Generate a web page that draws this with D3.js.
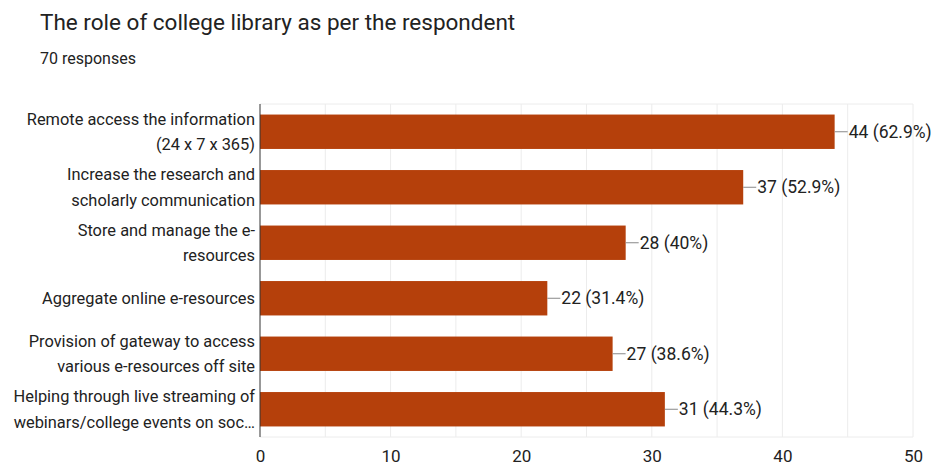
<!DOCTYPE html>
<html>
<head>
<script src="https://d3js.org/d3.v7.min.js"></script>
<style>
  body { margin: 0; background: #fff; }
  text { font-family: Roboto, "Noto Sans", sans-serif; }
</style>
</head>
<body>
<script>
var categories = [
  ["Remote access the information", "(24 x 7 x 365)"],
  ["Increase the research and", "scholarly communication"],
  ["Store and manage the e-", "resources"],
  ["Aggregate online e-resources"],
  ["Provision of gateway to access", "various e-resources off site"],
  ["Helping through live streaming of", "webinars/college events on soc\u2026"]
];
var counts = [44, 37, 28, 22, 27, 31];
var percents = ["62.9%", "52.9%", "40%", "31.4%", "38.6%", "44.3%"];
var xTicks = [0, 10, 20, 30, 40, 50];

var w = 933, h = 467;
var plotLeft = 260, plotRight = 913, plotTop = 104, plotBottom = 437;

var svg = d3.select('body').append('svg')
  .attr('width', w).attr('height', h);

svg.append('text').attr('x', 40).attr('y', 30)
  .attr('font-size', 22.5).attr('fill', '#222')
  .text('The role of college library as per the respondent');
svg.append('text').attr('x', 40).attr('y', 64)
  .attr('font-size', 16).attr('fill', '#222')
  .text('70 responses');

var x = d3.scaleLinear().domain([0, 50]).range([plotLeft, plotRight]);
var y = d3.scaleBand().domain(d3.range(categories.length))
  .range([plotTop, plotBottom]).paddingInner(0.38).paddingOuter(0.19);

// faint grid every 5
svg.append('g').selectAll('line')
  .data(d3.range(5, 55, 5))
  .join('line')
  .attr('x1', function(d){ return x(d); }).attr('x2', function(d){ return x(d); })
  .attr('y1', plotTop).attr('y2', plotBottom)
  .attr('stroke', '#ececec').attr('stroke-width', 1);
svg.append('line').attr('x1', plotLeft).attr('x2', plotRight).attr('y1', plotTop).attr('y2', plotTop)
  .attr('stroke', '#ececec');
svg.append('line').attr('x1', plotLeft).attr('x2', plotRight).attr('y1', plotBottom).attr('y2', plotBottom)
  .attr('stroke', '#ececec');

// bars
svg.append('g').selectAll('rect')
  .data(counts)
  .join('rect')
  .attr('x', x(0))
  .attr('y', function(d, i){ return y(i); })
  .attr('width', function(d){ return x(d) - x(0); })
  .attr('height', y.bandwidth())
  .attr('fill', '#b5400b');

// leader lines + value labels
var vals = svg.append('g').selectAll('g')
  .data(counts)
  .join('g')
  .attr('transform', function(d, i){ return 'translate(' + x(d) + ',' + (y(i) + y.bandwidth() / 2) + ')'; });
vals.append('line').attr('x1', 0).attr('x2', 13).attr('y1', 0).attr('y2', 0)
  .attr('stroke', '#888').attr('stroke-width', 1);
vals.append('text').attr('x', 14).attr('dy', '0.35em')
  .attr('font-size', 17.5).attr('fill', '#222')
  .text(function(d, i){ return d + ' (' + percents[i] + ')'; });

// category labels
var lineH = 26;
var labs = svg.append('g').selectAll('text')
  .data(categories)
  .join('text')
  .attr('text-anchor', 'end')
  .attr('font-size', 16.4).attr('fill', '#222')
  .attr('transform', function(d, i){ return 'translate(' + (plotLeft - 5) + ',' + (y(i) + y.bandwidth() / 2) + ')'; });
labs.selectAll('tspan')
  .data(function(d){ return d.map(function(t, j){ return {t: t, j: j, n: d.length}; }); })
  .join('tspan')
  .attr('x', 0)
  .attr('y', function(d){ return (d.j - (d.n - 1) / 2) * lineH; })
  .attr('dy', '0.35em')
  .text(function(d){ return d.t; });

// axis line
svg.append('line').attr('x1', plotLeft).attr('x2', plotLeft).attr('y1', plotTop).attr('y2', plotBottom)
  .attr('stroke', '#333').attr('stroke-width', 1);

// x tick labels
var xAxis = d3.axisBottom(x).tickValues(xTicks).tickSize(0).tickPadding(0);
var gx = svg.append('g').attr('transform', 'translate(0,' + 450 + ')').call(xAxis);
gx.select('.domain').remove();
gx.selectAll('text').attr('font-size', 17).attr('fill', '#222')
  .style('font-family', 'Roboto, "Noto Sans", sans-serif');
</script>
</body>
</html>
